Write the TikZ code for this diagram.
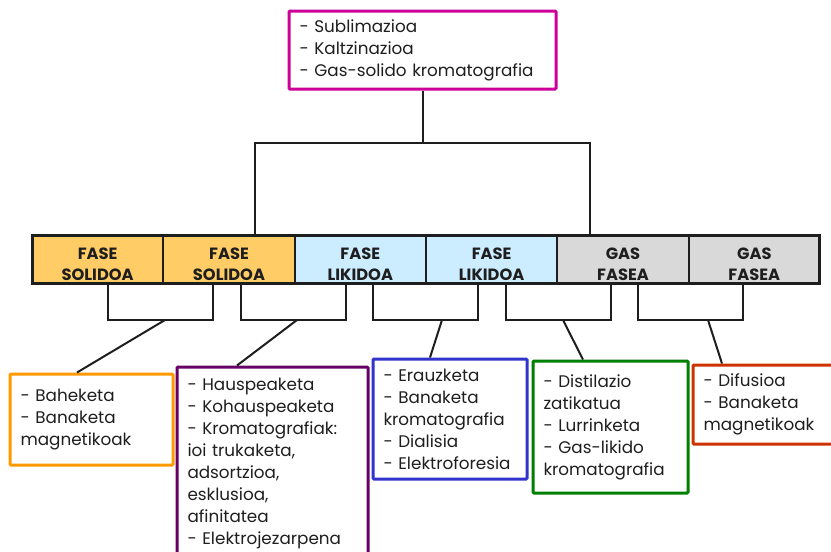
\documentclass[tikz,border=0pt]{standalone}
\usepackage{fontspec}
\setmainfont{Poppins}
\usetikzlibrary{positioning}
\definecolor{magentaB}{RGB}{204,0,153}
\definecolor{orangeB}{RGB}{255,153,0}
\definecolor{purpleB}{RGB}{102,0,102}
\definecolor{blueB}{RGB}{51,51,204}
\definecolor{greenB}{RGB}{0,128,0}
\definecolor{redB}{RGB}{204,51,0}
\definecolor{solidFill}{RGB}{255,204,102}
\definecolor{likidFill}{RGB}{204,236,255}
\definecolor{gasFill}{RGB}{217,217,217}
\definecolor{ink}{RGB}{30,30,30}
\tikzset{
  listbox/.style={draw=#1, line width=3pt, rounded corners=1pt, align=left,
    inner xsep=10.5pt, inner ysep=0pt, font=\fontsize{16.8}{22}\selectfont,
    text=ink},
  phase/.style={draw=ink, line width=2pt, fill=#1, outer sep=0pt,
    minimum width=131.33pt, minimum height=48pt, inner sep=0pt, align=center,
    text height=42pt, text depth=0pt,
    font=\fontsize{16.3}{21}\selectfont\bfseries, text=ink},
  link/.style={draw=ink, line width=2pt}
}
\begin{document}
\begin{tikzpicture}[x=1pt,y=-1pt]
  \useasboundingbox (0,0) rectangle (831,552);
  % top list
  \node[listbox=magentaB, text width=246pt, minimum height=78pt] (sublim) at (422.5,50)
    {- Sublimazioa\\- Kaltzinazioa\\- Gas-solido kromatografia};
  % phase bar
  \node[phase=solidFill] (solidoA) at (97.67,259) {FASE\\SOLIDOA};
  \node[phase=solidFill, right=0pt of solidoA] (solidoB) {FASE\\SOLIDOA};
  \node[phase=likidFill, right=0pt of solidoB] (likidoA) {FASE\\LIKIDOA};
  \node[phase=likidFill, right=0pt of likidoA] (likidoB) {FASE\\LIKIDOA};
  \node[phase=gasFill, right=0pt of likidoB] (gasA) {GAS\\FASEA};
  \node[phase=gasFill, right=0pt of gasA] (gasB) {GAS\\FASEA};
  \draw[draw=ink, line width=3pt] (solidoA.north west) rectangle (gasB.south east);
  % bottom lists
  \node[listbox=orangeB, text width=142pt, minimum height=91pt] (baheketa) at (91.5,419.5)
    {- Baheketa\\- Banaketa\\magnetikoak};
  \node[listbox=purpleB, text width=170pt, minimum height=193pt] (hauspea) at (272.5,463.5)
    {- Hauspeaketa\\- Kohauspeaketa\\- Kromatografiak:\\ioi trukaketa,\\adsortzioa,\\esklusioa,\\afinitatea\\- Elektrojezarpena};
  \node[listbox=blueB, text width=133pt, minimum height=120pt] (erauzketa) at (450,419)
    {- Erauzketa\\- Banaketa\\kromatografia\\- Dialisia\\- Elektroforesia};
  \node[listbox=greenB, text width=134pt, minimum height=132pt] (distilazio) at (610.5,427)
    {- Distilazio\\zatikatua\\- Lurrinketa\\- Gas-likido\\kromatografia};
  \node[listbox=redB, text width=126pt, minimum height=79pt] (difusioa) at (766.5,404.5)
    {- Difusioa\\- Banaketa\\magnetikoak};
  % top connector
  \coordinate (hubL) at (255,143);
  \coordinate (hubR) at (590,143);
  \draw[link] (sublim.south) -- (sublim.south |- hubL);
  \draw[link] (hubL |- solidoB.north) -- (hubL) -- (hubR) -- (hubR |- gasA.north);
  % brackets under the bar
  \foreach \i/\a/\b in {1/108/213, 2/241/346, 3/373/478, 4/506/611, 5/638/743}{
    \coordinate (br\i l) at (\a,320);
    \coordinate (br\i r) at (\b,320);
    \draw[link] (br\i l |- solidoA.south) -- (br\i l) -- (br\i r) -- (br\i r |- solidoA.south);
  }
  \coordinate (j1) at (165,320);
  \coordinate (j2) at (297,320);
  \coordinate (j3) at (442,320);
  \coordinate (j4) at (563,320);
  \coordinate (j5) at (708,320);
  \draw[link] (j1) -- ([xshift=-14.5pt]baheketa.north);
  \draw[link] (j2) -- ([xshift=-35.5pt]hauspea.north);
  \draw[link] (j3) -- ([xshift=-20pt]erauzketa.north);
  \draw[link] (j4) -- ([xshift=-27.5pt]distilazio.north);
  \draw[link] (j5) -- ([xshift=-44.5pt]difusioa.north);
\end{tikzpicture}
\end{document}
